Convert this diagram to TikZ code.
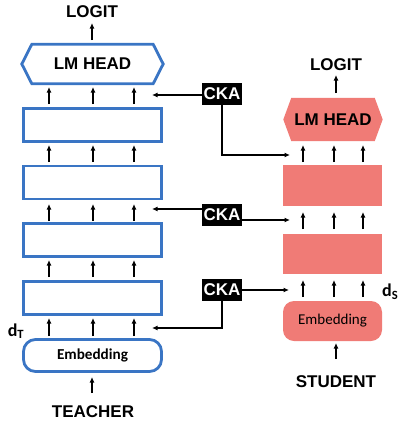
\documentclass[tikz,border=0pt]{standalone}
\usepackage{fontspec}
\setmainfont{Liberation Sans}
\newfontfamily\calib{Carlito}
\usetikzlibrary{calc,arrows.meta}
\definecolor{tblue}{HTML}{3A75C4}
\definecolor{ssalmon}{HTML}{F07B76}
\begin{document}
\begin{tikzpicture}[x=1pt,y=-1pt,
  tbox/.style={draw=tblue,line width=2.8pt,minimum width=138pt,minimum height=33pt,inner sep=0pt},
  sbox/.style={fill=ssalmon,minimum width=99pt,minimum height=41pt,inner sep=0pt},
  lbl/.style={font=\bfseries\fontsize{17}{19}\selectfont,inner sep=0pt},
  cka/.style={fill=black,text=white,font=\bfseries\fontsize{17}{19}\selectfont,minimum width=40pt,minimum height=22pt,inner sep=0pt},
  arr/.style={line width=1.3pt,-{Latex[length=5.5pt,width=5pt]}},
  ln/.style={line width=1.3pt}
]
\useasboundingbox (0,0) rectangle (399,421);
% ---------- teacher ----------
\node[lbl] (tlogit) at (92,12) {LOGIT};
\node[minimum width=121pt,minimum height=39pt,inner sep=0pt] (tlm) at (92.5,64) {};
\draw[tblue,line width=2.8pt,line join=miter] (tlm.north west) -- (tlm.north east) -- ($(tlm.east)+(10,0)$) -- (tlm.south east) -- (tlm.south west) -- ($(tlm.west)+(-10,0)$) -- cycle;
\node[lbl] at (tlm) {LM HEAD};
\node[tbox] (t1) at (92.5,125) {};
\node[tbox] (t2) at (92.5,182.5) {};
\node[tbox] (t3) at (92.5,240) {};
\node[tbox] (t4) at (92.5,298) {};
\node[tbox,rounded corners=12pt,minimum height=32pt] (temb) at (92.5,355.5) {\calib\bfseries\fontsize{15.2}{17}\selectfont Embedding};
\node[lbl] (teacher) at (93,412) {TEACHER};
\node[font=\calib\bfseries\fontsize{18}{20}\selectfont,inner sep=0pt] (dT) at (16,331) {d\textsubscript{T}};
% teacher arrows
\coordinate (tlo) at (92,40);
\coordinate (tli) at (92,23);
\draw[arr] (tlo) -- (tli);
\foreach \ya/\yb in {104/87, 162/145, 221/204, 277/260, 336/318} {
  \foreach \xx in {49,93,134} {
    \coordinate (a) at (\xx,\ya); \coordinate (b) at (\xx,\yb);
    \draw[arr] (a) -- (b);
  }
}
\coordinate (tin0) at (92,393);
\coordinate (tin1) at (92,377);
\draw[arr] (tin0) -- (tin1);
% ---------- student ----------
\node[lbl] (slogit) at (336,65) {LOGIT};
\node[minimum width=83pt,minimum height=43pt,inner sep=0pt] (slm) at (333,119.5) {};
\fill[ssalmon] (slm.north west) -- (slm.north east) -- ($(slm.east)+(8,0)$) -- (slm.south east) -- (slm.south west) -- ($(slm.west)+(-8,0)$) -- cycle;
\node[lbl] at (slm) {LM HEAD};
\node[sbox] (s1) at (332.5,185.5) {};
\node[sbox,minimum height=40pt] (s2) at (332.5,254) {};
\node[sbox,rounded corners=11pt,minimum height=40pt,font=\calib\fontsize{15}{17}\selectfont] (semb) at (332.5,321) {Embedding};
\node[lbl] (student) at (336,382) {STUDENT};
\node[font=\calib\bfseries\fontsize{18}{20}\selectfont,inner sep=0pt,anchor=east] (dS) at (398.5,292) {d\textsubscript{S}};
\coordinate (slo) at (336,93);
\coordinate (sli) at (336,75);
\draw[arr] (slo) -- (sli);
\foreach \ya/\yb in {162/145, 229/212, 297/280} {
  \foreach \xx in {303,334,363} {
    \coordinate (a) at (\xx,\ya); \coordinate (b) at (\xx,\yb);
    \draw[arr] (a) -- (b);
  }
}
\coordinate (sin0) at (336,359);
\coordinate (sin1) at (336,343);
\draw[arr] (sin0) -- (sin1);
% ---------- CKA ----------
\node[cka] (c1) at (222,94) {CKA};
\node[cka] (c2) at (222,215) {CKA};
\node[cka] (c3) at (222,290) {CKA};
\coordinate (c1t) at (152,95);
\coordinate (c1s) at (290,155);
\draw[arr] (c1.west |- c1t) -- (c1t);
\draw[arr] (c1.south) |- (c1s);
\coordinate (c2t) at (152,209);
\coordinate (c2s) at (290,220);
\draw[arr] (c2.west |- c2t) -- (c2t);
\draw[arr] (c2.east |- c2s) -- (c2s);
\coordinate (c3t) at (152,328);
\coordinate (c3s) at (289,290);
\draw[arr] (c3.east |- c3s) -- (c3s);
\draw[arr] (c3.south) |- (c3t);
\end{tikzpicture}
\end{document}
